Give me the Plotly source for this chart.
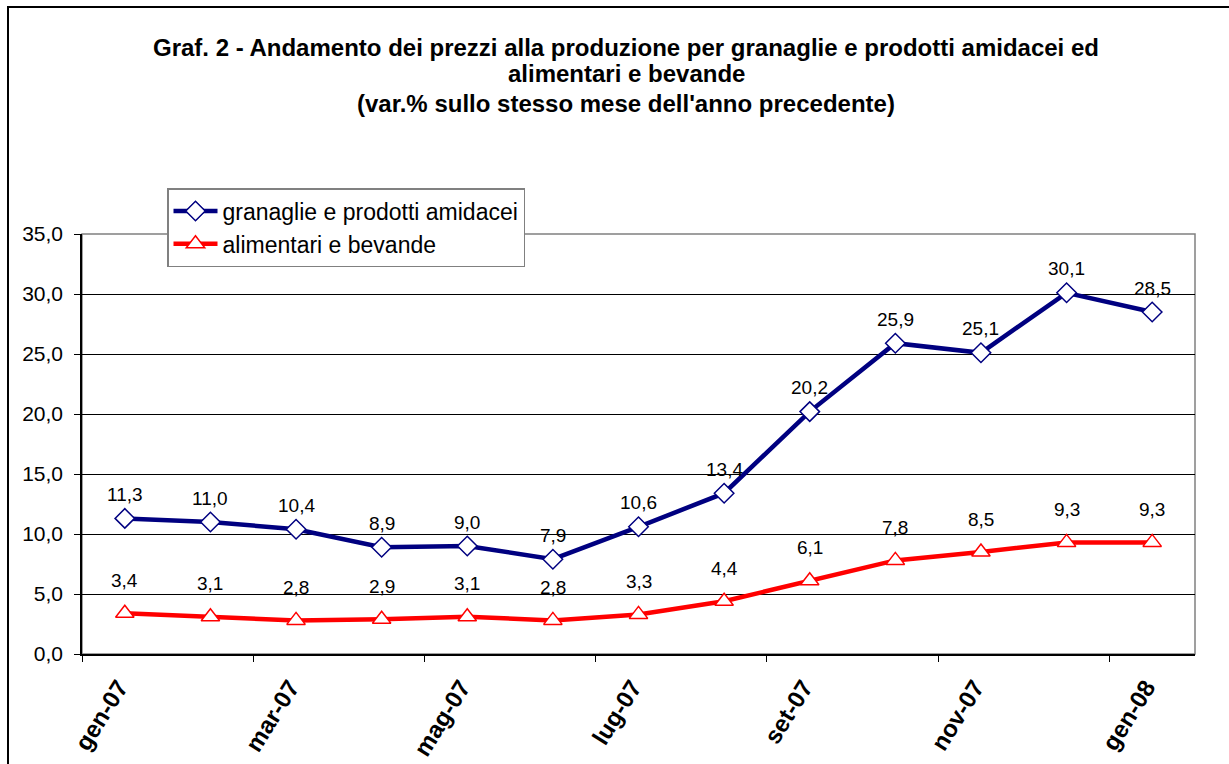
import plotly.graph_objects as go

months = ["gen-07", "feb-07", "mar-07", "apr-07", "mag-07", "giu-07", "lug-07",
          "ago-07", "set-07", "ott-07", "nov-07", "dic-07", "gen-08"]
granaglie = [11.3, 11.0, 10.4, 8.9, 9.0, 7.9, 10.6, 13.4, 20.2, 25.9, 25.1, 30.1, 28.5]
alimentari = [3.4, 3.1, 2.8, 2.9, 3.1, 2.8, 3.3, 4.4, 6.1, 7.8, 8.5, 9.3, 9.3]
tick_labels = ["gen-07", "mar-07", "mag-07", "lug-07", "set-07", "nov-07", "gen-08"]
title_lines = ["Graf. 2 - Andamento dei prezzi alla produzione per granaglie e prodotti amidacei ed",
               "alimentari e bevande",
               "(var.% sullo stesso mese dell'anno precedente)"]

x = list(range(len(months)))
FONT = "Liberation Sans, Arial, sans-serif"

fig = go.Figure()
fig.add_trace(go.Scatter(
    x=x, y=granaglie, mode="lines+markers", name="granaglie e prodotti amidacei",
    line=dict(color="#000080", width=4.5),
    marker=dict(symbol="diamond", size=15, color="white", line=dict(color="#000080", width=1.5)),
))
fig.add_trace(go.Scatter(
    x=x, y=alimentari, mode="lines+markers", name="alimentari e bevande",
    line=dict(color="#FF0000", width=4.5),
    marker=dict(symbol="triangle-up", size=16, color="white", line=dict(color="#FF0000", width=1.5)),
))

for xi, v in zip(x, granaglie):
    fig.add_annotation(x=xi, y=v, text=f"{v:.1f}".replace(".", ","), showarrow=False,
                       yshift=24, font=dict(family=FONT, size=19, color="black"))
for xi, v in zip(x, alimentari):
    fig.add_annotation(x=xi, y=v, text=f"{v:.1f}".replace(".", ","), showarrow=False,
                       yshift=33, font=dict(family=FONT, size=19, color="black"))

title_y = [47, 73, 103]
for t, yp in zip(title_lines, title_y):
    fig.add_annotation(xref="paper", yref="paper", x=(626 - 82) / 1113, y=(654 - yp) / 420,
                       text=f"<b>{t}</b>", showarrow=False, xanchor="center", yanchor="middle",
                       font=dict(family=FONT, size=24, color="black"))

# outer chart frame
fig.add_shape(type="rect", xref="paper", yref="paper",
              x0=(8 - 82) / 1113, x1=1.2, y0=-0.6, y1=(654 - 7) / 420,
              line=dict(color="black", width=2), fillcolor="rgba(0,0,0,0)", layer="below")
# plot area border
fig.add_shape(type="rect", xref="paper", yref="paper", x0=0, x1=1, y0=0, y1=1,
              line=dict(color="#808080", width=1.5), fillcolor="rgba(0,0,0,0)", layer="below")

fig.update_layout(
    width=1229, height=764,
    margin=dict(l=82, r=34, t=234, b=110),
    paper_bgcolor="white", plot_bgcolor="white",
    separators=",.",
    showlegend=True,
    legend=dict(x=(167 - 82) / 1113, y=(654 - 188) / 420, xanchor="left", yanchor="top",
                bgcolor="white", bordercolor="#808080", borderwidth=1.5,
                font=dict(family=FONT, size=23, color="black"),
                tracegroupgap=0, itemwidth=44),
    font=dict(family=FONT, color="black"),
)
fig.update_xaxes(
    range=[-0.5, 12.5], tickmode="array", tickvals=x[::2], ticktext=tick_labels,
    tickangle=-58, ticks="", showgrid=False, zeroline=False, automargin=False,
    showline=True, linecolor="black", linewidth=1.5,
    ticklabelstandoff=8, ticklabelshift=-6,
    tickfont=dict(family=FONT, size=24, color="black", weight="bold"),
    minor=dict(tickmode="array", tickvals=[i - 0.5 for i in x[::2]], ticks="outside",
               ticklen=6, tickcolor="black", tickwidth=1, showgrid=False),
)
fig.update_yaxes(
    range=[0, 35], tickmode="linear", tick0=0, dtick=5, tickformat=".1f",
    ticks="outside", ticklen=6, tickcolor="black", ticklabelstandoff=7, automargin=False,
    showgrid=True, gridcolor="black", gridwidth=1, zeroline=False,
    showline=True, linecolor="black", linewidth=1.5,
    tickfont=dict(family=FONT, size=21, color="black"),
)

fig.write_html("out.html", config={"displayModeBar": False},
               post_script="document.body.style.margin='0';")
